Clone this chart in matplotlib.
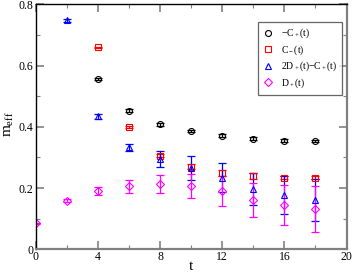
import matplotlib
matplotlib.use("Agg")
import matplotlib.pyplot as plt
from matplotlib.ticker import MultipleLocator

plt.rcParams['font.family'] = ['Liberation Serif', 'DejaVu Serif']
plt.rcParams['mathtext.fontset'] = 'custom'
plt.rcParams['mathtext.rm'] = 'Liberation Serif'
plt.rcParams['mathtext.it'] = 'Liberation Serif'

t_cp = [4, 6, 8, 10, 12, 14, 16, 18]
cp = [0.556, 0.453, 0.408, 0.386, 0.371, 0.361, 0.355, 0.353]
cp_err = [0.004, 0.004, 0.004, 0.004, 0.004, 0.004, 0.004, 0.004]

t_cm = [4, 6, 8, 10, 12, 14, 16, 18]
cm = [0.659, 0.399, 0.306, 0.269, 0.248, 0.240, 0.234, 0.234]
cm_err = [0.003, 0.003, 0.006, 0.008, 0.010, 0.010, 0.004, 0.004]

t_dc = [2, 4, 6, 8, 10, 12, 14, 16, 18]
dc = [0.747, 0.435, 0.333, 0.295, 0.265, 0.234, 0.196, 0.177, 0.161]
dc_err = [0.004, 0.008, 0.012, 0.025, 0.038, 0.047, 0.053, 0.061, 0.070]

t_dp = [0, 2, 4, 6, 8, 10, 12, 14, 16, 18]
dp = [0.085, 0.159, 0.190, 0.205, 0.213, 0.207, 0.190, 0.161, 0.145, 0.132]
dp_err = [0.002, 0.006, 0.012, 0.020, 0.030, 0.040, 0.050, 0.054, 0.065, 0.075]

fig = plt.figure(figsize=(3.54, 2.75), dpi=100)
ax = fig.add_axes([0.101, 0.0935, 0.878, 0.891])

kw = dict(fmt='none', elinewidth=0.9, capsize=3, capthick=0.9)
ax.errorbar(t_cp, cp, yerr=cp_err, ecolor='black', **kw)
ax.errorbar(t_cm, cm, yerr=cm_err, ecolor='red', **kw)
ax.errorbar(t_dc, dc, yerr=dc_err, ecolor='blue', **kw)
ax.errorbar(t_dp, dp, yerr=dp_err, ecolor='magenta', **kw)

ms = 4.3
ax.plot(t_cp, cp, 'o', mfc='none', mec='black', ms=ms, mew=0.8, label=r'$-$C$_+$(t)')
ax.plot(t_cm, cm, 's', mfc='none', mec='red', ms=ms, mew=0.8, label=r'C$_-$(t)')
ax.plot(t_dc, dc, '^', mfc='none', mec='blue', ms=ms, mew=0.8, label=r'2D$_+$(t)$-$C$_+$(t)')
ax.plot(t_dp, dp, 'D', mfc='none', mec='magenta', ms=3.6, mew=0.8, label=r'D$_+$(t)')

ax.set_xlim(0, 20)
ax.set_ylim(0, 0.8)
ax.xaxis.set_minor_locator(MultipleLocator(2))
ax.yaxis.set_minor_locator(MultipleLocator(0.1))
ax.set_xticks([0, 4, 8, 12, 16, 20])
ax.set_xticklabels(['0', '4', '8', '12', '16', '20'])
ax.set_yticks([0, 0.2, 0.4, 0.6, 0.8])
ax.set_yticklabels(['0', '0.2', '0.4', '0.6', '0.8'])
ax.tick_params(which='both', direction='in', top=True, right=True, color='#808080',
               labelsize=8.5, pad=1.5)
ax.tick_params(which='major', length=6, width=1.2)
ax.tick_params(which='minor', length=3, width=0.8)
for s in ['left', 'top', 'right']:
    ax.spines[s].set_linewidth(1.0)
ax.spines['bottom'].set_color('#808080')
ax.spines['bottom'].set_linewidth(1.6)
ax.spines['right'].set_color('#808080')
ax.spines['right'].set_linewidth(1.6)

ax.set_xlabel('t', fontsize=11)
ax.xaxis.set_label_coords(0.5, -0.045)
ax.set_ylabel(r'm$_{\rm eff}$', fontsize=11)
ax.yaxis.set_label_coords(-0.062, 0.51)

leg = ax.legend(loc='upper right', bbox_to_anchor=(0.985, 0.928), fontsize=7,
                frameon=True, fancybox=False, edgecolor='#404040', borderpad=0.5,
                handlelength=1.0, handletextpad=0.8, labelspacing=0.32,
                borderaxespad=0.0)
leg.get_frame().set_linewidth(0.9)

fig.savefig('out.png', dpi=100)
